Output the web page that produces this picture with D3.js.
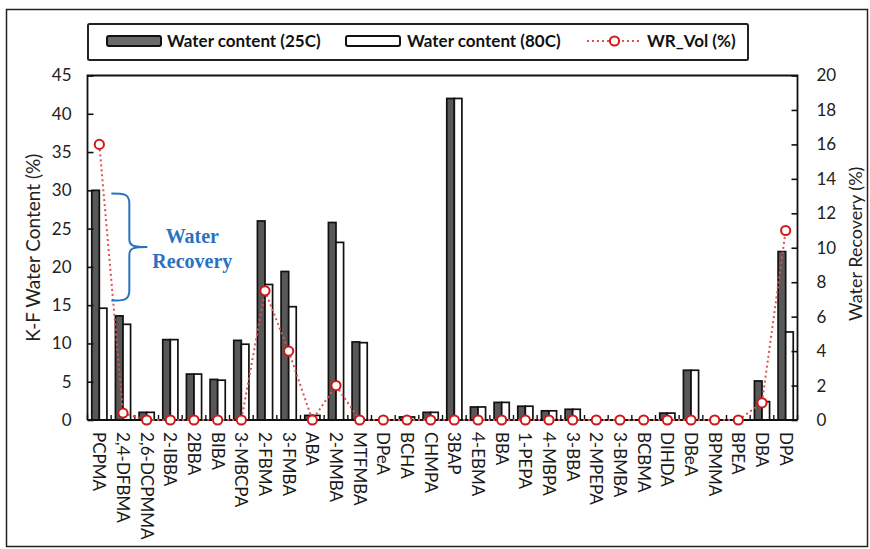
<!DOCTYPE html>
<html>
<head>
<meta charset="utf-8">
<script src="https://cdn.jsdelivr.net/npm/d3@7"></script>
<style>
  body { margin: 0; background: #fff; }
  svg { display: block; font-family: Lato, "Open Sans", sans-serif; }
</style>
</head>
<body>
<svg id="chart" width="870" height="549"></svg>
<script>
// category names along the x axis
const categories = ["PCPMA", "2,4-DFBMA", "2,6-DCPMMA", "2-IBBA", "2BBA", "BIBA", "3-MBCPA",
  "2-FBMA", "3-FMBA", "ABA", "2-MMBA", "MTFMBA", "DPeA", "BCHA", "CHMPA", "3BAP",
  "4-EBMA", "BBA", "1-PEPA", "4-MBPA", "3-BBA", "2-MPEPA", "3-BMBA", "BCBMA",
  "DIHDA", "DBeA", "BPMMA", "BPEA", "DBA", "DPA"];

// K-F water content (%) at 25C
const water25 = [30.0, 13.6, 1.0, 10.5, 6.0, 5.3, 10.4, 26.0, 19.4, 0.6, 25.8, 10.2, 0, 0.4, 1.0, 42.0,
  1.7, 2.3, 1.8, 1.2, 1.4, 0, 0, 0, 0.9, 6.5, 0, 0, 5.1, 22.0];

// K-F water content (%) at 80C
const water80 = [14.6, 12.5, 1.0, 10.5, 6.0, 5.2, 9.9, 17.7, 14.8, 0.6, 23.2, 10.1, 0, 0.4, 1.0, 42.0,
  1.7, 2.3, 1.8, 1.2, 1.4, 0, 0, 0, 0.9, 6.5, 0, 0, 2.4, 11.5];

// water recovery by volume (%)
const wrVol = [16, 0.4, 0, 0, 0, 0, 0, 7.5, 4, 0, 2, 0, 0, 0, 0, 0,
  0, 0, 0, 0, 0, 0, 0, 0, 0, 0, 0, 0, 1, 11];

const leftTicks = [0, 5, 10, 15, 20, 25, 30, 35, 40, 45];
const rightTicks = [0, 2, 4, 6, 8, 10, 12, 14, 16, 18, 20];

const svg = d3.select("#chart");
const plotL = 87.5, plotR = 797.5, plotT = 75.5, plotB = 420;
const red = "#d01818";

// outer frame
svg.append("rect")
  .attr("x", 6.5).attr("y", 9.5)
  .attr("width", 861).attr("height", 537)
  .attr("fill", "none").attr("stroke", "#222").attr("stroke-width", 1.5);

const x = d3.scaleBand()
  .domain(categories)
  .range([plotL, plotR])
  .paddingInner(0.36)
  .paddingOuter(0.18);

const sub = d3.scaleBand()
  .domain(["25", "80"])
  .range([0, x.bandwidth()]);

const yL = d3.scaleLinear().domain([0, 45]).range([plotB, plotT]);
const yR = d3.scaleLinear().domain([0, 20]).range([plotB, plotT]);
const cx = d => x(d) + x.bandwidth() / 2;

// bars
const rows = categories.map((c, i) => ({ c, w25: water25[i], w80: water80[i], wr: wrVol[i] }));

svg.append("g").selectAll("rect")
  .data(rows.filter(d => d.w25 > 0))
  .join("rect")
    .attr("x", d => x(d.c) + sub("25"))
    .attr("y", d => yL(d.w25))
    .attr("width", sub.bandwidth())
    .attr("height", d => plotB - yL(d.w25))
    .attr("fill", "#585858")
    .attr("stroke", "#111")
    .attr("stroke-width", 1.7);

svg.append("g").selectAll("rect")
  .data(rows.filter(d => d.w80 > 0))
  .join("rect")
    .attr("x", d => x(d.c) + sub("80"))
    .attr("y", d => yL(d.w80))
    .attr("width", sub.bandwidth())
    .attr("height", d => plotB - yL(d.w80))
    .attr("fill", "#fff")
    .attr("stroke", "#111")
    .attr("stroke-width", 1.7);

// plot box (top, left, right)
svg.append("path")
  .attr("d", `M${plotL},${plotB}V${plotT}H${plotR}V${plotB}`)
  .attr("fill", "none").attr("stroke", "#111").attr("stroke-width", 1.8);

// left axis, ticks pointing inward
const axL = svg.append("g")
  .attr("transform", `translate(${plotL},0)`)
  .call(d3.axisLeft(yL).tickValues(leftTicks).tickSize(-6).tickPadding(16));
axL.select(".domain").remove();
axL.selectAll("line").attr("stroke", "#111").attr("stroke-width", 1.6);
axL.selectAll("text").attr("font-size", 17).attr("fill", "#222").attr("font-family", "Lato");

// right axis, ticks pointing inward
const axR = svg.append("g")
  .attr("transform", `translate(${plotR},0)`)
  .call(d3.axisRight(yR).tickValues(rightTicks).tickSize(-6).tickPadding(19));
axR.select(".domain").remove();
axR.selectAll("line").attr("stroke", "#111").attr("stroke-width", 1.6);
axR.selectAll("text").attr("font-size", 17).attr("fill", "#222").attr("font-family", "Lato");

// x axis: ticks at category boundaries, pointing up
const bounds = d3.range(categories.length + 1).map(i => plotL + i * x.step());
svg.append("g").selectAll("line")
  .data(bounds)
  .join("line")
    .attr("x1", d => d).attr("x2", d => d)
    .attr("y1", plotB).attr("y2", plotB - 5)
    .attr("stroke", "#111").attr("stroke-width", 1.4);

svg.append("line")
  .attr("x1", plotL).attr("x2", plotR)
  .attr("y1", plotB).attr("y2", plotB)
  .attr("stroke", "#111").attr("stroke-width", 2);

// category labels, rotated
svg.append("g").selectAll("text")
  .data(categories)
  .join("text")
    .attr("transform", d => `translate(${cx(d)},${plotB + 12}) rotate(90)`)
    .attr("dy", "0.35em")
    .attr("font-size", 17)
    .attr("fill", "#1a1a1a")
    .text(d => d);

// WR_Vol line + markers
const line = d3.line()
  .x(d => cx(d.c))
  .y(d => yR(d.wr));

svg.append("path")
  .datum(rows)
  .attr("d", line)
  .attr("fill", "none")
  .attr("stroke", "#e25050")
  .attr("stroke-width", 2)
  .attr("stroke-dasharray", "2,3");

svg.append("g").selectAll("circle")
  .data(rows)
  .join("circle")
    .attr("cx", d => cx(d.c))
    .attr("cy", d => yR(d.wr))
    .attr("r", 4.6)
    .attr("fill", "#fff")
    .attr("stroke", red)
    .attr("stroke-width", 2);

// axis titles
svg.append("text")
  .attr("transform", `translate(33,${(plotT + plotB) / 2}) rotate(-90)`)
  .attr("text-anchor", "middle")
  .attr("dy", "0.35em")
  .attr("font-size", 19)
  .attr("fill", "#222")
  .text("K-F Water Content (%)");

svg.append("text")
  .attr("transform", `translate(856,${(plotT + plotB) / 2 - 4}) rotate(-90)`)
  .attr("text-anchor", "middle")
  .attr("dy", "0.35em")
  .attr("font-size", 18)
  .attr("fill", "#222")
  .text("Water Recovery (%)");

// "Water Recovery" brace annotation
const bx = cx(categories[0]) + 12;
const bTop = yL(29.6), bBot = yL(15.6), bMid = (bTop + bBot) / 2;
const blue = "#2a72c0";
svg.append("path")
  .attr("d", `M${bx},${bTop} C${bx + 12},${bTop} ${bx + 18},${bTop} ${bx + 18},${bTop + 10}
    L${bx + 18},${bMid - 8} C${bx + 18},${bMid - 1} ${bx + 22},${bMid} ${bx + 36},${bMid}
    M${bx + 36},${bMid} C${bx + 22},${bMid} ${bx + 18},${bMid + 1} ${bx + 18},${bMid + 8}
    L${bx + 18},${bBot - 10} C${bx + 18},${bBot} ${bx + 12},${bBot} ${bx},${bBot}`)
  .attr("fill", "none").attr("stroke", blue).attr("stroke-width", 2);

const ann = svg.append("text")
  .attr("font-family", "'Liberation Serif', 'DejaVu Serif', serif")
  .attr("font-weight", "bold")
  .attr("font-size", 20)
  .attr("fill", blue)
  .attr("text-anchor", "middle");
ann.append("tspan").attr("x", bx + 81).attr("y", bMid - 4).text("Water");
ann.append("tspan").attr("x", bx + 81).attr("y", bMid + 21).text("Recovery");

// legend
const lg = svg.append("g");
lg.append("rect")
  .attr("x", 88).attr("y", 24).attr("width", 660).attr("height", 36)
  .attr("fill", "#fff").attr("stroke", "#222").attr("stroke-width", 2).attr("rx", 1.5);

const legendItems = [
  { label: "Water content (25C)", fill: "#6a6a6a", sx: 107, tx: 167 },
  { label: "Water content (80C)", fill: "#fff", sx: 346, tx: 407 }
];
legendItems.forEach(it => {
  lg.append("rect")
    .attr("x", it.sx).attr("y", 36).attr("width", 54).attr("height", 10)
    .attr("rx", 2)
    .attr("fill", it.fill).attr("stroke", "#111").attr("stroke-width", 2);
  lg.append("text")
    .attr("x", it.tx).attr("y", 41).attr("dy", "0.35em")
    .attr("font-size", 17).attr("font-weight", "bold").attr("fill", "#111")
    .text(it.label);
});
lg.append("line")
  .attr("x1", 587).attr("x2", 642).attr("y1", 41).attr("y2", 41)
  .attr("stroke", "#e25050").attr("stroke-width", 2).attr("stroke-dasharray", "2,3");
lg.append("circle")
  .attr("cx", 614.5).attr("cy", 41).attr("r", 4.6)
  .attr("fill", "#fff").attr("stroke", red).attr("stroke-width", 2);
lg.append("text")
  .attr("x", 647).attr("y", 41).attr("dy", "0.35em")
  .attr("font-size", 17).attr("font-weight", "bold").attr("fill", "#111")
  .text("WR_Vol (%)");
</script>
</body>
</html>
